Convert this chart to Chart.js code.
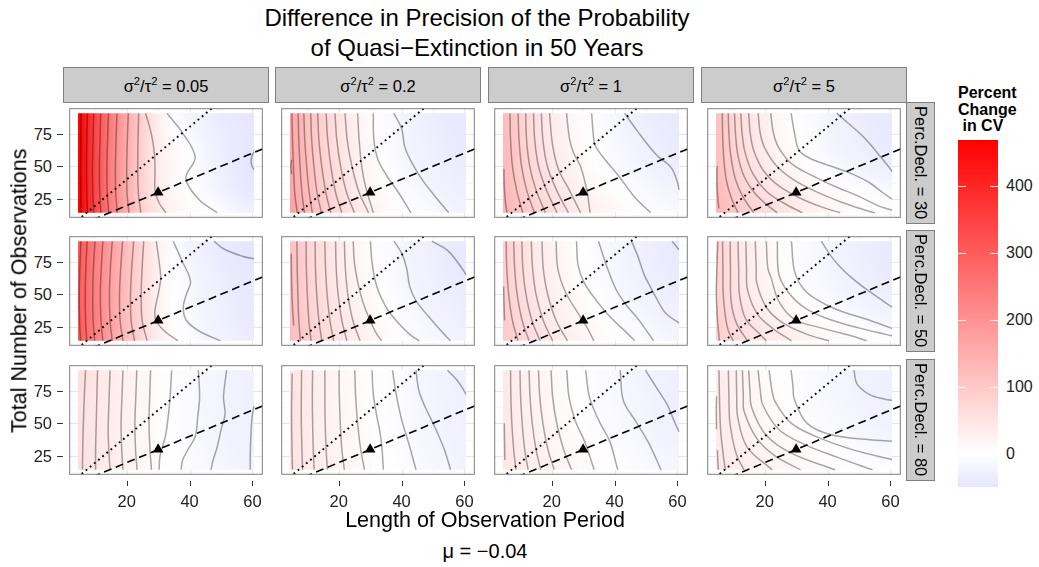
<!DOCTYPE html>
<html>
<head>
<meta charset="utf-8">
<script src="https://cdn.jsdelivr.net/npm/chart.js@4.4.1/dist/chart.umd.min.js"></script>
<style>
  html, body { margin: 0; padding: 0; background: #ffffff; }
  #root { position: relative; width: 1039px; height: 567px; overflow: hidden;
          font-family: "Liberation Sans", Arial, Helvetica, sans-serif; color: #000; }
  #root canvas { position: absolute; }
  .txt { position: absolute; white-space: nowrap; line-height: 1; }
  .strip { position: absolute; box-sizing: border-box; background: #cccccc; border: 1px solid #7f7f7f;
           display: flex; align-items: center; justify-content: center; font-size: 16.5px; white-space: pre; }
  .strip.side { writing-mode: vertical-rl; }
  .sup { font-size: 0.68em; position: relative; top: -0.5em; }
  .tick { position: absolute; background: #333; }
</style>
</head>
<body>
<div id="root"></div>
<script>
// ---------- facet labels, axes, limits ----------
const ratioLabels   = ['0.05', '0.2', '1', '5'];      // sigma^2 / tau^2
const declineLabels = ['30', '50', '80'];             // Perc.Decl.
const xTicks = [20, 40, 60];
const yTicks = [25, 50, 75];
const xLimits = [1.7, 63.3];
const yLimits = [10.7, 94.3];
const tileSpanX = [4.5, 60.5];
const tileSpanY = [14.5, 90.5];
const gridX = [5, 10, 15, 20, 25, 30, 35, 40, 45, 50, 55, 60];
const gridY = [90, 75, 60, 45, 30, 15];
const fillLimits = [-49, 468];
const legendBreaks = [0, 100, 200, 300, 400];
const refSlopes = { dotted: 2, dashed: 1 };
const marker = { x: 30, y: 30 };
const driftLabel = 'μ = −0.04';

// ---------- percent change in CV (rows: y = 90 ... 15, cols: x = 5 ... 60) ----------
const fillR1C1 = [
  [465, 342, 238, 158, 85, 30, -6, -20, -30, -37, -42, -45],
  [465, 341, 236, 156, 83, 32, 3, -12, -24, -33, -40, -44],
  [464, 340, 234, 154, 80, 33, 12, -2, -18, -30, -40, -48],
  [464, 339, 233, 153, 80, 34, 13, 0, -15, -28, -40, -48],
  [464, 339, 233, 153, 80, 38, 12, 3, -10, -22, -33, -40],
  [465, 340, 235, 155, 83, 45, 22, 10, 4, -6, -18, -28]];
const fillR1C2 = [
  [160, 115, 80, 52, 28, 8, -8, -19, -27, -33, -38, -42],
  [161, 116, 81, 53, 29, 9, -6, -17, -25, -31, -36, -40],
  [162, 118, 83, 55, 31, 11, -4, -15, -23, -29, -34, -38],
  [164, 120, 86, 58, 35, 15, 0, -11, -19, -25, -30, -34],
  [166, 124, 90, 63, 40, 21, 6, -5, -13, -19, -25, -30],
  [170, 129, 96, 70, 48, 29, 14, 3, -6, -13, -19, -24]];
const fillR1C3 = [
  [125, 86, 58, 36, 19, 5, -7, -17, -25, -32, -37, -41],
  [126, 87, 59, 37, 20, 6, -5, -15, -23, -30, -35, -39],
  [128, 90, 62, 40, 23, 9, -2, -11, -19, -26, -31, -36],
  [131, 94, 67, 46, 29, 15, 4, -5, -13, -20, -25, -30],
  [135, 100, 75, 54, 38, 24, 13, 4, -4, -10, -16, -21],
  [140, 108, 84, 64, 48, 35, 24, 14, 6, -1, -7, -12]];
const fillR1C4 = [
  [115, 76, 50, 30, 14, 1, -10, -19, -27, -33, -38, -42],
  [116, 77, 51, 31, 15, 2, -9, -18, -26, -32, -37, -41],
  [118, 80, 55, 35, 19, 6, -5, -14, -22, -28, -33, -37],
  [122, 86, 62, 43, 28, 16, 5, -4, -12, -18, -23, -27],
  [128, 96, 74, 57, 43, 31, 21, 12, 5, -1, -6, -10],
  [135, 105, 84, 67, 52, 40, 29, 20, 12, 5, -1, -6]];
const fillR2C1 = [
  [300, 236, 176, 122, 72, 28, -6, -22, -32, -38, -44, -48],
  [299, 234, 174, 120, 70, 26, -4, -18, -28, -36, -42, -46],
  [298, 232, 172, 118, 68, 24, -2, -14, -24, -32, -38, -42],
  [298, 232, 172, 118, 68, 25, 0, -12, -22, -30, -36, -40],
  [299, 233, 173, 119, 70, 27, 2, -10, -20, -28, -34, -38],
  [300, 235, 175, 121, 73, 32, 8, -6, -16, -24, -30, -35]];
const fillR2C2 = [
  [112, 80, 56, 36, 19, 5, -7, -17, -25, -32, -37, -42],
  [113, 81, 57, 37, 20, 6, -6, -16, -24, -30, -36, -40],
  [114, 83, 59, 39, 22, 8, -4, -14, -22, -28, -34, -38],
  [116, 85, 62, 42, 26, 12, 0, -10, -18, -25, -30, -35],
  [118, 88, 66, 47, 31, 17, 5, -5, -13, -20, -26, -31],
  [121, 92, 71, 53, 37, 23, 11, 1, -7, -14, -20, -25]];
const fillR2C3 = [
  [88, 60, 40, 24, 11, 0, -9, -17, -24, -30, -35, -40],
  [89, 61, 41, 25, 12, 1, -8, -16, -23, -29, -34, -38],
  [90, 63, 43, 27, 14, 3, -6, -14, -21, -27, -32, -36],
  [92, 66, 47, 31, 18, 7, -2, -10, -17, -23, -28, -32],
  [95, 70, 52, 37, 24, 13, 4, -4, -11, -17, -22, -26],
  [99, 76, 58, 44, 31, 20, 11, 3, -4, -10, -15, -20]];
const fillR2C4 = [
  [78, 52, 33, 18, 6, -4, -12, -19, -25, -30, -35, -39],
  [79, 53, 34, 19, 7, -3, -11, -18, -24, -29, -34, -38],
  [80, 55, 36, 21, 9, -1, -9, -16, -22, -27, -32, -36],
  [83, 59, 41, 27, 15, 5, -3, -10, -16, -21, -26, -30],
  [87, 65, 49, 36, 25, 16, 8, 1, -5, -10, -15, -19],
  [92, 73, 59, 48, 38, 30, 22, 15, 9, 4, -1, -5]];
const fillR3C1 = [
  [56, 45, 35, 26, 16, 6, -3, -10, -16, -21, -25, -28],
  [56, 45, 35, 26, 16, 6, -3, -10, -16, -21, -25, -28],
  [55, 44, 34, 25, 15, 5, -3, -10, -16, -21, -25, -28],
  [55, 44, 34, 25, 15, 5, -2, -9, -15, -20, -24, -27],
  [55, 44, 34, 25, 16, 6, -1, -8, -14, -19, -23, -26],
  [56, 45, 35, 26, 17, 8, 1, -6, -12, -17, -21, -24]];
const fillR3C2 = [
  [48, 37, 27, 18, 10, 3, -4, -10, -16, -21, -26, -30],
  [48, 37, 27, 18, 10, 3, -4, -10, -16, -21, -25, -29],
  [49, 38, 28, 19, 11, 4, -3, -9, -15, -20, -24, -28],
  [49, 38, 28, 20, 12, 5, -2, -8, -14, -19, -23, -27],
  [50, 39, 29, 21, 13, 6, 0, -6, -12, -17, -21, -25],
  [51, 40, 31, 23, 15, 8, 2, -4, -10, -15, -19, -23]];
const fillR3C3 = [
  [42, 31, 22, 14, 6, -1, -7, -13, -18, -23, -27, -31],
  [42, 31, 22, 14, 7, 0, -6, -12, -17, -22, -26, -30],
  [43, 32, 23, 15, 8, 1, -5, -11, -16, -21, -25, -29],
  [44, 33, 25, 17, 10, 3, -3, -9, -14, -19, -23, -26],
  [45, 35, 27, 20, 13, 7, 1, -4, -9, -14, -18, -22],
  [47, 38, 30, 23, 17, 11, 5, 0, -5, -10, -14, -18]];
const fillR3C4 = [
  [37, 27, 18, 10, 3, -3, -9, -14, -19, -23, -27, -30],
  [37, 27, 18, 10, 3, -3, -9, -14, -19, -23, -27, -30],
  [38, 28, 19, 12, 5, -1, -7, -12, -17, -21, -25, -28],
  [39, 30, 22, 15, 9, 3, -2, -7, -12, -16, -20, -23],
  [41, 33, 26, 20, 14, 9, 4, 0, -4, -8, -11, -14],
  [44, 37, 31, 26, 21, 17, 13, 9, 6, 3, 0, -3]];

// ---------- contour lines, [length, observations] ----------
const contoursR1C1 = [
  [[5.5,90.5],[5.4,70],[5.3,50],[5.4,30],[5.5,14.5]],
  [[7.5,90.5],[7.3,70],[7.2,50],[7.3,30],[7.5,14.5]],
  [[9.5,90.5],[9.3,70],[9.1,50],[9.2,30],[9.5,14.5]],
  [[11.7,90.5],[11.5,70],[11.3,50],[11.4,30],[11.8,14.5]],
  [[14.2,90.5],[13.9,70],[13.7,50],[13.8,30],[14.3,14.5]],
  [[16.9,90.5],[16.6,70],[16.4,50],[16.5,30],[17.0,14.5]],
  [[20.5,90.5],[20.2,70],[20.0,50],[20.1,30],[20.7,14.5]],
  [[23.8,90.5],[23.6,70],[23.5,50],[23.7,30],[24.5,14.5]],
  [[26.0,90.5],[27.8,75],[28.8,60],[29.0,45],[29.0,32],[30.3,22],[32.5,14.5]],
  [[32.8,90.5],[37.3,77],[41.8,57],[38.8,41],[42.8,25],[48.8,14.5]],
  [[60.5,61],[59.8,57.5],[59.6,54],[59.8,50.5],[60.5,47.4]]];
const contoursR1C2 = [
  [[5.0,55],[4.8,50],[5.0,44]],
  [[5.1,90.5],[5.3,70],[5.6,50],[6.0,30],[6.8,14.5]],
  [[7.1,90.5],[7.3,70],[7.7,50],[8.3,30],[9.1,14.5]],
  [[8.9,90.5],[9.2,70],[9.8,50],[10.6,30],[11.6,14.5]],
  [[11.1,90.5],[11.4,70],[12.1,50],[13.1,30],[14.5,14.5]],
  [[13.3,90.5],[13.7,70],[14.6,50],[15.9,30],[17.5,14.5]],
  [[16.0,90.5],[16.5,70],[17.5,50],[19.0,30],[21.0,14.5]],
  [[18.8,90.5],[19.4,70],[20.6,50],[22.5,30],[25.0,14.5]],
  [[22.0,90.5],[22.7,70],[24.2,50],[26.5,30],[29.5,14.5]],
  [[26.0,90.5],[26.5,70],[27.3,50],[28.5,35],[31.0,14.5]],
  [[31.0,90.5],[31.2,70],[32.5,55],[35.5,42],[39.0,30],[43.0,14.5]],
  [[37.5,90.5],[40.0,79],[41.0,65],[43.0,54],[46.5,40],[50.0,29],[55.0,14.5]]];
const contoursR1C3 = [
  [[4.8,48],[4.9,35],[5.3,22],[5.8,14.5]],
  [[6.7,90.5],[6.9,70],[7.5,50],[8.8,32],[10.8,14.5]],
  [[9.3,90.5],[9.6,70],[10.4,50],[12.0,32],[14.5,14.5]],
  [[11.7,90.5],[12.0,70],[13.0,50],[15.0,32],[18.0,14.5]],
  [[14.2,90.5],[14.6,70],[15.8,50],[18.3,32],[21.7,14.5]],
  [[16.7,90.5],[17.2,70],[18.6,50],[21.5,32],[25.3,14.5]],
  [[19.3,90.5],[20.3,65.7],[22.2,47.4],[25.7,31.4],[29.2,14.5]],
  [[24.7,90.5],[25.7,70.3],[27.0,60],[29.2,49.7],[31.2,31.4],[32.2,14.5]],
  [[32.7,90.5],[33.2,75],[33.8,66],[37.0,55],[41.2,43],[46.2,27],[51.5,14.5]],
  [[43.2,90.5],[47.2,77],[53.2,59],[58.0,49],[60.0,38],[60.5,32]]];
const contoursR1C4 = [
  [[4.9,50],[4.8,40],[5.0,28],[5.4,18]],
  [[6.5,90.5],[6.6,75],[7.0,55],[7.9,38],[9.5,25],[11.5,14.5]],
  [[8.4,90.5],[8.6,75],[9.2,58],[10.7,40],[13.0,27],[16.5,14.5]],
  [[10.4,90.5],[10.7,75],[11.5,58],[13.5,42],[17.0,29],[21.0,20],[24.0,14.5]],
  [[12.4,90.5],[12.8,75],[13.8,60],[16.3,44],[20.5,31],[26.0,22],[32.0,14.5]],
  [[14.9,90.5],[15.4,75],[16.5,62],[19.5,47],[24.5,35],[31.0,26],[38.0,19],[44.0,14.5]],
  [[17.9,90.5],[18.6,75],[20.0,64],[23.5,51],[29.0,40],[36.0,31],[44.0,23],[52.0,16.5],[55.0,14.5]],
  [[21.9,90.5],[22.8,75],[24.5,64],[28.5,52],[35.0,43],[42.0,35],[50.0,27],[56.0,20],[60.5,16.5]],
  [[28.4,90.5],[29.5,75],[30.9,62.3],[34.0,56.5],[40.0,51],[47.0,45],[53.0,38],[57.5,30],[60.5,25]],
  [[42.9,90.5],[46.5,83],[50.4,74.8],[53.5,67],[56.3,58.8],[59.8,48.5],[60.5,46]]];
const contoursR2C1 = [
  [[5.4,90.5],[5.1,70],[4.9,50],[5.0,30],[5.3,14.5]],
  [[7.4,90.5],[7.0,70],[6.8,50],[6.9,30],[7.3,14.5]],
  [[9.9,90.5],[9.4,70],[9.2,50],[9.3,30],[9.8,14.5]],
  [[12.4,90.5],[11.9,70],[11.6,50],[11.8,30],[12.4,14.5]],
  [[15.4,90.5],[14.8,70],[14.5,50],[14.7,30],[15.4,14.5]],
  [[18.7,90.5],[18.1,70],[17.7,50],[17.9,30],[18.8,14.5]],
  [[22.2,90.5],[21.6,70],[21.2,50],[21.4,30],[22.5,14.5]],
  [[25.4,90.5],[24.9,70],[24.6,50],[24.9,30],[26.5,14.5]],
  [[29.4,90.5],[30.3,75],[30.8,62],[30.0,50],[29.0,38],[29.3,30],[32.0,22],[36.3,14.5]],
  [[34.8,90.5],[37.5,76],[40.3,60],[39.0,50],[38.0,40],[39.0,30],[43.0,22],[49.8,14.5]],
  [[47.8,90.5],[50.8,84.7],[56.8,79],[60.5,77]]];
const contoursR2C2 = [
  [[4.9,81],[5.0,60],[5.3,40],[5.7,26]],
  [[6.7,90.5],[6.8,70],[7.0,50],[7.3,30],[7.8,14.5]],
  [[9.6,90.5],[9.7,70],[10.0,50],[10.5,30],[11.2,14.5]],
  [[12.5,90.5],[12.6,70],[13.0,50],[13.7,30],[14.6,14.5]],
  [[15.6,90.5],[15.8,70],[16.3,50],[17.2,30],[18.4,14.5]],
  [[19.0,90.5],[19.2,70],[19.8,50],[21.0,30],[22.6,14.5]],
  [[21.8,90.5],[22.1,70],[22.9,50],[24.5,30],[26.8,14.5]],
  [[24.6,90.5],[25.1,72],[26.8,51.5],[28.6,38],[31.6,21.7],[33.6,14.5]],
  [[30.1,90.5],[30.6,74.4],[32.1,56],[35.1,40],[38.6,29],[42.6,19.4],[45.6,14.5]],
  [[37.6,90.5],[40.1,81],[41.6,70],[42.6,56],[44.6,45],[48.6,33],[52.6,22],[55.6,14.5]],
  [[49.6,90.5],[54.6,83.5],[58.6,72],[60.5,65]]];
const contoursR2C3 = [
  [[4.7,56],[4.8,45],[5.0,30]],
  [[5.5,90.5],[5.7,70],[6.3,50],[7.5,30],[9.3,14.5]],
  [[7.9,90.5],[8.2,70],[9.0,50],[10.6,30],[12.8,14.5]],
  [[10.5,90.5],[10.8,70],[11.8,50],[13.7,30],[16.3,14.5]],
  [[13.5,90.5],[13.9,70],[15.0,50],[17.3,30],[20.3,14.5]],
  [[16.9,90.5],[17.3,70],[18.7,50],[21.4,30],[25.0,14.5]],
  [[21.4,90.5],[21.9,70],[24.4,51.5],[28.4,35.5],[31.4,24],[33.4,14.5]],
  [[27.9,90.5],[28.4,72],[30.4,58.5],[34.4,44.6],[38.4,33.2],[43.4,21.7],[46.4,14.5]],
  [[34.9,90.5],[37.4,72],[40.4,54],[43.4,42.8],[47.4,31.4],[52.4,14.5]],
  [[45.4,90.5],[47.4,79],[49.4,65],[51.3,56],[53.3,47],[56.3,35.5],[60.5,28]],
  [[58.3,90.5],[60.5,84]]];
const contoursR2C4 = [
  [[5.1,90.5],[4.8,70],[4.6,50],[5.0,30],[5.6,14.5]],
  [[6.6,90.5],[6.7,70],[6.8,50],[7.5,33],[8.5,21.7],[10.0,14.5]],
  [[9.0,90.5],[9.1,70],[9.3,45],[11.0,28],[14.5,14.5]],
  [[11.5,90.5],[11.7,70],[12.0,49],[14.0,31],[18.5,19.4],[20.5,14.5]],
  [[14.0,90.5],[14.2,70],[14.5,53.7],[17.5,35.5],[22.5,24],[28.5,14.5]],
  [[17.0,90.5],[17.3,70],[17.5,58.3],[20.5,40.1],[25.5,28.6],[33.5,19.4],[40.5,14.5]],
  [[20.5,90.5],[21.0,70],[22.0,62.9],[24.5,44.6],[29.5,30.9],[38.5,24],[47.5,18.3],[52.4,14.5]],
  [[24.0,90.5],[24.5,65.2],[27.5,51.5],[32.5,40.1],[40.5,30.9],[50.5,24],[58.5,19.4],[60.5,18.3]],
  [[28.5,90.5],[29.5,67.5],[32.5,53.7],[37.5,44.6],[43.5,37.8],[52.4,30.9],[60.5,24]],
  [[38.0,90.5],[40.5,81.2],[43.5,72.1],[47.5,62.9],[52.4,53.7],[56.5,46.9],[60.5,40.1]]];
const contoursR3C1 = [
  [[6.9,90.5],[6.5,70],[6.2,50],[6.0,30],[5.9,14.5]],
  [[10.7,90.5],[10.5,70],[10.3,50],[10.1,30],[10.1,14.5]],
  [[14.7,90.5],[14.4,70],[14.1,45],[14.3,30],[14.7,14.5]],
  [[18.8,90.5],[18.5,70],[18.2,50],[18.4,30],[18.8,14.5]],
  [[23.2,90.5],[22.9,70],[22.6,50],[22.8,30],[23.3,14.5]],
  [[27.6,90.5],[27.3,70],[27.1,50],[27.4,30],[27.9,14.5]],
  [[34.3,90.5],[33.8,70],[33.3,57],[32.3,40],[30.6,25],[30.3,14.5]],
  [[42.8,90.5],[43.2,70],[42.6,55],[41.8,40],[39.5,30],[37.8,22],[37.3,14.5]],
  [[51.8,90.5],[50.8,70],[51.3,57],[50.0,45],[48.8,32],[47.5,22],[46.8,14.5]],
  [[60.5,63],[59.9,55],[59.5,40],[59.3,25],[59.3,14.5]]];
const contoursR3C2 = [
  [[5.2,88],[5.0,60],[5.1,35],[5.3,14.5]],
  [[8.2,90.5],[8.1,70],[8.1,50],[8.3,30],[8.5,14.5]],
  [[11.7,90.5],[11.6,70],[11.7,50],[11.9,30],[12.2,14.5]],
  [[15.6,90.5],[15.6,70],[15.7,50],[16.0,30],[16.4,14.5]],
  [[20.1,90.5],[20.2,70],[20.5,50],[21.0,30],[21.8,14.5]],
  [[25.1,90.5],[25.4,70],[26.0,50],[27.0,30],[28.2,14.5]],
  [[30.6,90.5],[31.0,72],[32.0,57],[33.2,42],[33.8,30],[34.2,14.5]],
  [[37.1,90.5],[38.3,72],[40.1,52],[42.6,32],[44.6,14.5]],
  [[44.6,90.5],[45.5,75],[47.6,62],[50.6,47],[53.6,30],[55.6,14.5]],
  [[54.6,90.5],[57.6,83],[59.6,76],[60.5,72]]];
const contoursR3C3 = [
  [[4.9,50],[5.0,35],[5.1,22]],
  [[6.9,90.5],[7.0,70],[7.3,50],[7.9,30],[8.6,14.5]],
  [[9.9,90.5],[10.1,70],[10.6,50],[11.4,30],[12.5,14.5]],
  [[12.8,90.5],[13.1,70],[13.8,50],[15.0,30],[16.5,14.5]],
  [[15.8,90.5],[16.2,70],[17.2,50],[18.8,30],[20.8,14.5]],
  [[19.8,90.5],[20.3,70],[21.6,50],[23.8,30],[26.3,14.5]],
  [[24.8,90.5],[25.5,70],[27.5,52],[30.5,36],[33.5,14.5]],
  [[30.8,90.5],[32.0,70],[35.0,52],[38.5,36],[41.0,14.5]],
  [[41.8,90.5],[42.8,67.3],[46.8,51.3],[50.8,35.2],[54.8,14.5]],
  [[49.8,90.5],[53.8,75.5],[56.8,64],[58.8,52.6],[60.5,43.5]]];
const contoursR3C4 = [
  [[4.65,70.7],[4.6,58],[4.65,45.5]],
  [[4.95,29.5],[5.1,20],[5.25,14.5]],
  [[5.45,90.5],[5.6,70],[5.95,45.5],[6.7,28],[7.45,14.5]],
  [[8.45,90.5],[8.6,70],[8.95,50],[10.9,27],[13.4,14.5]],
  [[10.95,90.5],[11.1,70],[11.4,54.7],[14.4,31.8],[22.4,14.5]],
  [[12.9,90.5],[13.2,70],[13.4,59.3],[17.4,38.7],[23.4,24.9],[31.4,14.5]],
  [[14.9,90.5],[15.3,75],[15.9,61.6],[20.4,41],[28.4,27.2],[42.4,14.5]],
  [[17.9,90.5],[18.6,75],[19.4,63.9],[24.4,45.5],[32.4,34.1],[43.4,23.8],[54.3,14.5]],
  [[21.4,90.5],[22.3,75],[23.4,66.1],[28.4,50.1],[36.4,39.8],[48.4,29.5],[60.5,22.4]],
  [[28.4,90.5],[29.0,78],[29.4,68.4],[33.4,50.1],[41.4,41],[53.4,37.5],[60.5,36.2]],
  [[48.4,90.5],[49.4,79.9],[53.4,71.9],[58.3,68.4],[60.5,67.5]]];

const panelFills = [
  [fillR1C1, fillR1C2, fillR1C3, fillR1C4],
  [fillR2C1, fillR2C2, fillR2C3, fillR2C4],
  [fillR3C1, fillR3C2, fillR3C3, fillR3C4]];
const panelContours = [
  [contoursR1C1, contoursR1C2, contoursR1C3, contoursR1C4],
  [contoursR2C1, contoursR2C2, contoursR2C3, contoursR2C4],
  [contoursR3C1, contoursR3C2, contoursR3C3, contoursR3C4]];

// ---------- layout ----------
const COL_LEFT = [63, 275, 488, 701];
const ROW_TOP = [102, 230, 359];
const PANEL_W = 206, PANEL_H = 122;
const root = document.getElementById('root');

function addText(html, style) {
  const d = document.createElement('div');
  d.className = 'txt';
  d.innerHTML = html;
  Object.assign(d.style, style);
  root.appendChild(d);
  return d;
}

// diverging white-centred fill colour
function fillColour(v) {
  const m = Math.max(-fillLimits[0], fillLimits[1]);
  const t = Math.max(-1, Math.min(1, v / m));
  if (t >= 0) { const k = Math.round(255 * (1 - t)); return [255, k, k]; }
  const k = Math.round(255 * (1 + t));
  return [k, k, 255];
}

function minorBreaks(ticks, lim) {
  const step = ticks[1] - ticks[0];
  const out = [];
  for (let v = ticks[0] - step / 2; v <= lim[1]; v += step) if (v >= lim[0]) out.push(v);
  return out;
}

function backdropPlugin(fill) {
  const off = document.createElement('canvas');
  off.width = gridX.length; off.height = gridY.length;
  const octx = off.getContext('2d');
  const img = octx.createImageData(off.width, off.height);
  fill.forEach((row, r) => row.forEach((v, c) => {
    const [R, G, B] = fillColour(v);
    const i = (r * off.width + c) * 4;
    img.data[i] = R; img.data[i + 1] = G; img.data[i + 2] = B; img.data[i + 3] = 255;
  }));
  octx.putImageData(img, 0, 0);
  return {
    id: 'panelBackdrop',
    beforeDatasetsDraw(chart) {
      const { ctx, chartArea: a, scales: { x, y } } = chart;
      ctx.save();
      ctx.fillStyle = '#ffffff';
      ctx.fillRect(a.left, a.top, a.right - a.left, a.bottom - a.top);
      ctx.lineWidth = 1;
      const vline = (v, col) => { const p = Math.round(x.getPixelForValue(v)) + 0.5;
        ctx.strokeStyle = col; ctx.beginPath(); ctx.moveTo(p, a.top); ctx.lineTo(p, a.bottom); ctx.stroke(); };
      const hline = (v, col) => { const p = Math.round(y.getPixelForValue(v)) + 0.5;
        ctx.strokeStyle = col; ctx.beginPath(); ctx.moveTo(a.left, p); ctx.lineTo(a.right, p); ctx.stroke(); };
      minorBreaks(xTicks, xLimits).forEach(v => vline(v, '#f7f7f7'));
      minorBreaks(yTicks, yLimits).forEach(v => hline(v, '#f7f7f7'));
      xTicks.forEach(v => vline(v, '#e5e5e5'));
      yTicks.forEach(v => hline(v, '#e5e5e5'));
      // heat field
      const hx0 = x.getPixelForValue(tileSpanX[0]), hx1 = x.getPixelForValue(tileSpanX[1]);
      const hy0 = y.getPixelForValue(tileSpanY[1]), hy1 = y.getPixelForValue(tileSpanY[0]);
      ctx.beginPath(); ctx.rect(hx0, hy0, hx1 - hx0, hy1 - hy0); ctx.clip();
      const sx = (gridX[1] - gridX[0]) / 2, sy = (gridY[0] - gridY[1]) / 2;
      const ix0 = x.getPixelForValue(gridX[0] - sx), ix1 = x.getPixelForValue(gridX[gridX.length - 1] + sx);
      const iy0 = y.getPixelForValue(gridY[0] + sy), iy1 = y.getPixelForValue(gridY[gridY.length - 1] - sy);
      ctx.imageSmoothingEnabled = true;
      ctx.imageSmoothingQuality = 'high';
      ctx.drawImage(off, ix0, iy0, ix1 - ix0, iy1 - iy0);
      ctx.restore();
    },
    afterDatasetsDraw(chart) {
      const { ctx, chartArea: a } = chart;
      ctx.save();
      ctx.strokeStyle = '#7f7f7f'; ctx.lineWidth = 1;
      ctx.strokeRect(a.left + 0.5, a.top + 0.5, a.right - a.left - 1, a.bottom - a.top - 1);
      ctx.restore();
    }
  };
}

function makePanel(r, c) {
  const cv = document.createElement('canvas');
  cv.width = PANEL_W; cv.height = PANEL_H;
  cv.style.left = COL_LEFT[c] + 'px'; cv.style.top = ROW_TOP[r] + 'px';
  root.appendChild(cv);
  const datasets = [];
  panelContours[r][c].forEach(line => datasets.push({
    data: line.map(([x, y]) => ({ x, y })), showLine: true, pointRadius: 0,
    borderColor: 'rgba(0,0,0,0.34)', borderWidth: 1.5, tension: 0.35, order: 3 }));
  const refLine = (slope, dash, width) => ({
    data: xLimits.map(x => ({ x, y: slope * x })), showLine: true, pointRadius: 0,
    borderColor: '#000', borderWidth: width, borderDash: dash, borderCapStyle: 'butt', tension: 0, order: 2 });
  datasets.push(refLine(refSlopes.dotted, [1.8, 3.6], 1.9));
  datasets.push(refLine(refSlopes.dashed, [8, 4.6], 1.6));
  datasets.push({ data: [marker], showLine: false, pointStyle: 'triangle', pointRadius: 6.2,
    backgroundColor: '#000', borderColor: '#000', borderWidth: 0, order: 1 });
  return new Chart(cv, {
    type: 'scatter',
    data: { datasets },
    options: {
      responsive: false, animation: false, devicePixelRatio: 1, events: [],
      layout: { padding: 0 },
      plugins: { legend: { display: false }, tooltip: { enabled: false } },
      scales: {
        x: { type: 'linear', min: xLimits[0], max: xLimits[1], display: false },
        y: { type: 'linear', min: yLimits[0], max: yLimits[1], display: false }
      }
    },
    plugins: [backdropPlugin(panelFills[r][c])]
  });
}

// ---------- panels, strips, axes ----------
for (let r = 0; r < 3; r++) {
  for (let c = 0; c < 4; c++) {
    const chart = makePanel(r, c);
    if (c === 0) {
      yTicks.forEach(v => {
        const py = ROW_TOP[r] + chart.scales.y.getPixelForValue(v);
        const t = document.createElement('div'); t.className = 'tick';
        Object.assign(t.style, { left: '57px', top: (Math.round(py) - 0.5) + 'px', width: '6px', height: '1px' });
        root.appendChild(t);
        addText(String(v), { left: '0px', width: '52px', textAlign: 'right', fontSize: '16.5px',
          top: (py - 8) + 'px', color: '#222' });
      });
    }
    if (r === 2) {
      xTicks.forEach(v => {
        const px = COL_LEFT[c] + chart.scales.x.getPixelForValue(v);
        const t = document.createElement('div'); t.className = 'tick';
        Object.assign(t.style, { left: (Math.round(px) - 0.5) + 'px', top: '481px', width: '1px', height: '5px' });
        root.appendChild(t);
        addText(String(v), { left: (px - 30) + 'px', width: '60px', textAlign: 'center', fontSize: '16.5px',
          top: '493px', color: '#222' });
      });
    }
  }
}

ratioLabels.forEach((lab, c) => {
  const s = document.createElement('div');
  s.className = 'strip';
  Object.assign(s.style, { left: COL_LEFT[c] + 'px', top: '67px', width: PANEL_W + 'px', height: '36px',
    paddingTop: '3px' });
  s.innerHTML = 'σ<span class="sup">2</span>/τ<span class="sup">2</span> = ' + lab;
  root.appendChild(s);
});
declineLabels.forEach((lab, r) => {
  const s = document.createElement('div');
  s.className = 'strip side';
  Object.assign(s.style, { left: '906px', top: ROW_TOP[r] + 'px', width: '29px', height: PANEL_H + 'px' });
  s.textContent = 'Perc.Decl. = ' + lab;
  root.appendChild(s);
});

// ---------- titles ----------
addText('Difference in Precision of the Probability', { left: '177px', width: '600px', textAlign: 'center',
  fontSize: '24px', top: '6px' });
addText('of Quasi−Extinction in 50 Years', { left: '177px', width: '600px', textAlign: 'center',
  fontSize: '24px', top: '36px' });
addText('Length of Observation Period', { left: '185px', width: '600px', textAlign: 'center',
  fontSize: '21.5px', top: '510px' });
addText(driftLabel, { left: '385px', width: '200px', textAlign: 'center', fontSize: '20px', top: '541px' });
addText('Total Number of Observations', { left: '-280px', width: '600px', textAlign: 'center',
  fontSize: '21.5px', top: '280px', transform: 'rotate(-90deg)' });

// ---------- colour bar legend ----------
addText('Percent<br>Change<br>&nbsp;in CV', { left: '958px', top: '85px', fontSize: '16px', fontWeight: 'bold',
  lineHeight: '16.6px' });
const lg = document.createElement('canvas');
lg.width = 40; lg.height = 347;
lg.style.left = '958px'; lg.style.top = '140px';
root.appendChild(lg);
const legendChart = new Chart(lg, {
  type: 'scatter',
  data: { datasets: [] },
  options: {
    responsive: false, animation: false, devicePixelRatio: 1, events: [],
    layout: { padding: 0 },
    plugins: { legend: { display: false }, tooltip: { enabled: false } },
    scales: {
      x: { type: 'linear', min: 0, max: 1, display: false },
      y: { type: 'linear', min: fillLimits[0], max: fillLimits[1], display: false }
    }
  },
  plugins: [{
    id: 'colourBar',
    beforeDatasetsDraw(chart) {
      const { ctx, chartArea: a, scales: { y } } = chart;
      ctx.save();
      for (let p = Math.floor(a.top); p < a.bottom; p++) {
        const [R, G, B] = fillColour(y.getValueForPixel(p + 0.5));
        ctx.fillStyle = `rgb(${R},${G},${B})`;
        ctx.fillRect(a.left, p, a.right - a.left, 1);
      }
      ctx.strokeStyle = 'rgba(255,255,255,0.9)'; ctx.lineWidth = 1;
      legendBreaks.forEach(b => {
        const p = Math.round(y.getPixelForValue(b)) + 0.5;
        ctx.beginPath();
        ctx.moveTo(a.left, p); ctx.lineTo(a.left + 8, p);
        ctx.moveTo(a.right - 8, p); ctx.lineTo(a.right, p);
        ctx.stroke();
      });
      ctx.restore();
    }
  }]
});
legendBreaks.forEach(b => {
  const py = 140 + legendChart.scales.y.getPixelForValue(b);
  addText(String(b), { left: '1006px', top: (py - 8) + 'px', fontSize: '16px', color: '#222' });
});
</script>
</body>
</html>
